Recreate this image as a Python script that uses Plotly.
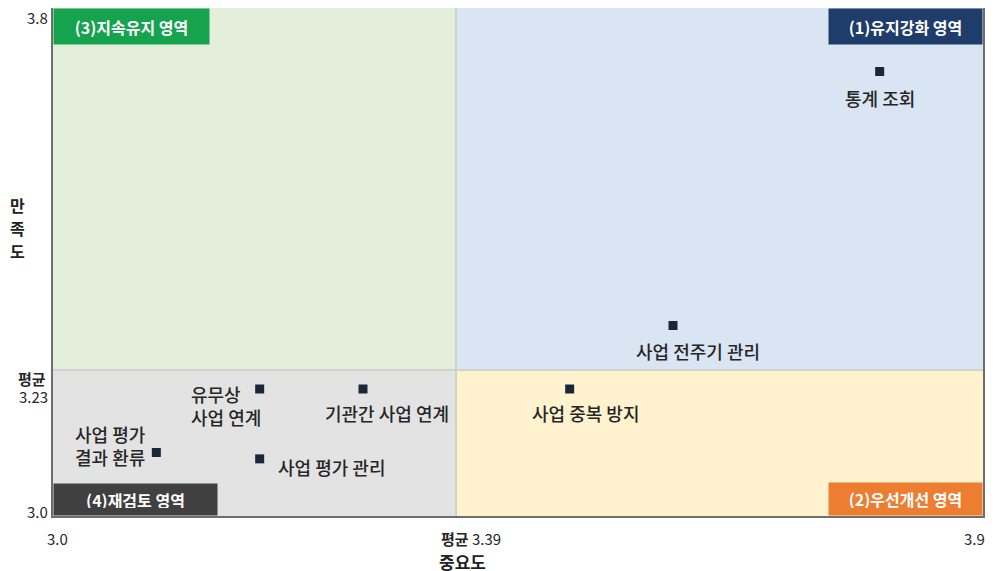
import plotly.graph_objects as go

# ---- data ----
items = ["통계 조회", "사업 전주기 관리", "사업 중복 방지", "유무상<br>사업 연계",
         "기관간 사업 연계", "사업 평가<br>결과 환류", "사업 평가 관리"]
importance = [3.80, 3.60, 3.50, 3.20, 3.30, 3.10, 3.20]
satisfaction = [3.70, 3.30, 3.20, 3.20, 3.20, 3.10, 3.09]

x_min, x_max, x_mean = 3.0, 3.9, 3.39
y_min, y_max, y_mean = 3.0, 3.8, 3.23

x_ticks = [3.0, 3.39, 3.9]
x_ticktext = ["3.0", "<b>평균</b> 3.39", "3.9"]
y_ticks = [3.0, 3.23, 3.8]
y_ticktext = ["3.0", "3.23", "3.8"]
y_mean_label = "평균"
x_title_chars = "중요도"
y_title_chars = ["만", "족", "도"]

quadrant_labels = ["(1)유지강화 영역", "(2)우선개선 영역", "(3)지속유지 영역", "(4)재검토 영역"]

# label placement styles (anchor, shifts)
label_style = [
    dict(xanchor="center", yanchor="top", xshift=0, yshift=-11, align="center"),
    dict(xanchor="center", yanchor="top", xshift=25, yshift=-10, align="center"),
    dict(xanchor="center", yanchor="top", xshift=16, yshift=-9, align="center"),
    dict(xanchor="right", yanchor="top", xshift=3, yshift=10, align="left"),
    dict(xanchor="center", yanchor="top", xshift=24, yshift=-9, align="center"),
    dict(xanchor="right", yanchor="bottom", xshift=-8, yshift=-19, align="left"),
    dict(xanchor="left", yanchor="middle", xshift=16, yshift=-8, align="left"),
]

FONT = "Noto Sans CJK KR Medium, Noto Sans CJK KR"
FONT_B = "Noto Sans CJK KR"
TXT = "#262626"
fig = go.Figure()

# quadrant backgrounds
quad_fills = [
    (x_mean, x_max, y_mean, y_max, "#d9e5f3"),  # (1)
    (x_mean, x_max, y_min, y_mean, "#fff2cf"),  # (2)
    (x_min, x_mean, y_mean, y_max, "#e3efdb"),  # (3)
    (x_min, x_mean, y_min, y_mean, "#e3e3e3"),  # (4)
]
for x0, x1, y0, y1, c in quad_fills:
    fig.add_shape(type="rect", x0=x0, x1=x1, y0=y0, y1=y1, xref="x", yref="y",
                  fillcolor=c, line=dict(width=0), layer="below")

# mean lines
fig.add_shape(type="line", x0=x_mean, x1=x_mean, y0=y_min, y1=y_max,
              line=dict(color="#c9d6c0", width=2), layer="below")
fig.add_shape(type="line", x0=x_min, x1=x_max, y0=y_mean, y1=y_mean,
              line=dict(color="#cfd3cf", width=2), layer="below")

fig.add_trace(go.Scatter(
    x=importance, y=satisfaction, mode="markers",
    marker=dict(symbol="square", size=9, color="#1b2639"),
    hoverinfo="text", text=items, showlegend=False))

for name, xv, yv, st in zip(items, importance, satisfaction, label_style):
    fig.add_annotation(x=xv, y=yv, text=name, showarrow=False,
                       font=dict(family=FONT, size=18, color=TXT), **st)

# quadrant label boxes
box_specs = [
    (quadrant_labels[0], 1.0, 1.0, "right", "top", "#1f3d6b", 139, 21),
    (quadrant_labels[1], 1.0, 0.0, "right", "bottom", "#ed7d31", 139, 18),
    (quadrant_labels[2], 0.0, 1.0, "left", "top", "#15a34e", 141, 21),
    (quadrant_labels[3], 0.0, 0.0, "left", "bottom", "#404040", 149, 17),
]
for txt, px, py, xa, ya, col, w, h in box_specs:
    fig.add_annotation(xref="x domain", yref="y domain", x=px, y=py, text="<b>" + txt + "</b>",
                       showarrow=False, xanchor=xa, yanchor=ya, bgcolor=col,
                       font=dict(family=FONT_B, size=16, color="white"),
                       borderpad=7, width=w, height=h)

# tick labels
x_shift = {3.0: 4, 3.39: 15, 3.9: -9}
for v, t in zip(x_ticks, x_ticktext):
    fig.add_annotation(x=v, xref="x", y=0, yref="y domain", text=t, showarrow=False,
                       xanchor="center", yanchor="middle", yshift=-22, xshift=x_shift[v],
                       font=dict(family=FONT_B, size=15, color=TXT))
y_shift = {3.0: 5, 3.23: -27, 3.8: -9}
for v, t in zip(y_ticks, y_ticktext):
    fig.add_annotation(x=0, xref="x domain", y=v, yref="y", text=t, showarrow=False,
                       xanchor="right", yanchor="middle", xshift=-3, yshift=y_shift[v],
                       font=dict(family=FONT_B, size=15, color=TXT))
fig.add_annotation(x=0, xref="x domain", y=y_mean, yref="y", text="<b>" + y_mean_label + "</b>",
                   showarrow=False, xanchor="right", yanchor="middle", xshift=-5, yshift=-9,
                   font=dict(family=FONT_B, size=15, color=TXT))

# axis titles
for i, ch in enumerate(y_title_chars):
    fig.add_annotation(xref="x domain", yref="y domain", x=0, y=0.567, xshift=-36,
                       yshift=(1 - i) * 23, text="<b>" + ch + "</b>",
                       showarrow=False, font=dict(family=FONT_B, size=16, color="#222222"),
                       xanchor="center", yanchor="middle")
fig.add_annotation(x=x_mean, xref="x", y=0, yref="y domain", text="<b>" + x_title_chars + "</b>",
                   showarrow=False, xanchor="center", yanchor="middle", yshift=-45, xshift=6,
                   font=dict(family=FONT_B, size=17, color="#222222"))

fig.update_xaxes(range=[x_min, x_max], showticklabels=False, automargin=False,
                 showgrid=False, zeroline=False, showline=True, linecolor="#6e6e6e",
                 linewidth=1.5, mirror=True, ticks="")
fig.update_yaxes(range=[y_min, y_max], showticklabels=False, automargin=False,
                 showgrid=False, zeroline=False, showline=True, linecolor="#6e6e6e",
                 linewidth=1.5, mirror=True, ticks="")

# the page has an 8px body margin; margins are set so the plot lands where the reference has it
fig.update_layout(width=995, height=571, margin=dict(l=45, r=20, t=0, b=63),
                  paper_bgcolor="white", plot_bgcolor="white",
                  font=dict(family=FONT_B))

fig.write_html("out.html")
